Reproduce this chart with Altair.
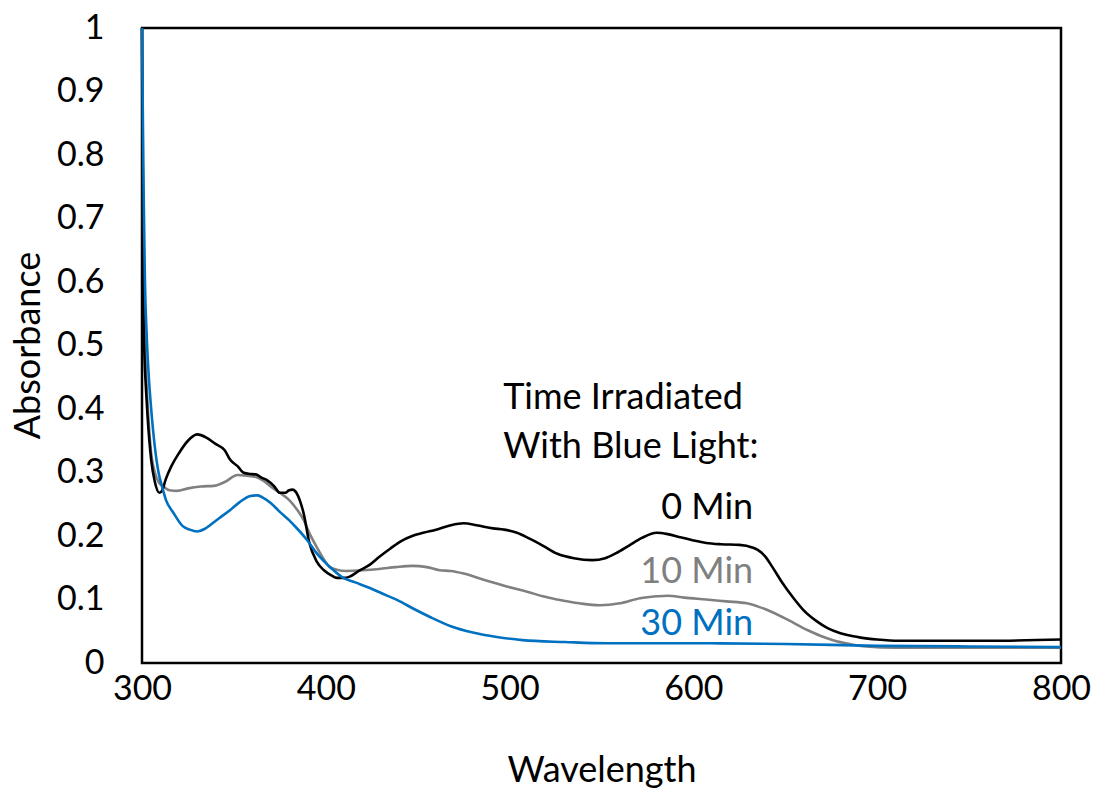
import altair as alt
import pandas as pd

# ---- data ----
wl_0 = [300, 300.5, 301, 301.5, 302, 303, 305, 307, 309.5, 311, 313, 316, 320, 325, 330, 335, 340, 345, 348,
        352, 355, 358, 362, 365, 368, 372, 375, 378, 380, 382, 384, 386, 388, 391, 395, 399, 403, 406, 410,
        413, 418, 424, 429, 435, 441, 447, 453, 460, 468, 475, 482, 491, 497, 504, 510, 518, 526, 535, 545,
        552, 558, 565, 572, 580, 586, 593, 600, 607, 615, 625, 632, 635, 639, 643, 648, 654, 660, 667, 673,
        680, 687, 691, 700, 712, 730, 760, 800]
abs_0 = [1.0, 0.62, 0.52, 0.47, 0.44, 0.39, 0.32, 0.285, 0.268, 0.272, 0.29, 0.31, 0.33, 0.35, 0.36, 0.355, 0.345,
         0.335, 0.32, 0.31, 0.30, 0.298, 0.297, 0.292, 0.288, 0.278, 0.268, 0.268, 0.272, 0.273, 0.268, 0.255,
         0.235, 0.19, 0.16, 0.146, 0.138, 0.134, 0.134, 0.136, 0.145, 0.155, 0.167, 0.18, 0.192, 0.2, 0.205,
         0.21, 0.217, 0.22, 0.217, 0.212, 0.21, 0.205, 0.197, 0.185, 0.172, 0.165, 0.162, 0.165, 0.173, 0.185,
         0.197, 0.205, 0.203, 0.198, 0.193, 0.189, 0.187, 0.186, 0.182, 0.178, 0.168, 0.151, 0.128, 0.104,
         0.083, 0.066, 0.055, 0.047, 0.042, 0.04, 0.037, 0.035, 0.035, 0.035, 0.037]

wl_10 = [300, 300.5, 301, 301.5, 302, 303, 305, 307, 309, 312, 315, 319, 325, 332, 339, 345, 352, 357, 362, 366,
         370, 375, 380, 384, 388, 391, 395, 399, 402, 406, 411, 420, 429, 438, 447, 455, 462, 468, 475, 485,
         492, 499, 510, 518, 526, 538, 549, 560, 571, 580, 586, 595, 607, 618, 629, 636, 643, 652, 662, 669,
         676, 685, 694, 710, 740, 770, 800]
abs_10 = [1.0, 0.7, 0.58, 0.52, 0.47, 0.41, 0.33, 0.30, 0.285, 0.277, 0.272, 0.271, 0.275, 0.278, 0.279,
          0.285, 0.296, 0.295, 0.293, 0.287, 0.278, 0.268, 0.257, 0.243, 0.225, 0.205, 0.183, 0.163, 0.151,
          0.147, 0.145, 0.146, 0.148, 0.151, 0.153, 0.151, 0.146, 0.145, 0.141, 0.132, 0.126, 0.12, 0.112,
          0.105, 0.1, 0.094, 0.091, 0.094, 0.102, 0.105, 0.106, 0.103, 0.1, 0.097, 0.094, 0.088, 0.08, 0.067,
          0.052, 0.043, 0.036, 0.03, 0.026, 0.024, 0.024, 0.024, 0.024]

wl_30 = [300, 300.5, 301, 301.6, 302.5, 303.5, 305, 307, 309, 311, 313, 317, 322, 326, 330, 334, 337, 342, 348,
         353, 359, 363, 366, 370, 375, 380, 384, 390, 395, 402, 409, 416, 424, 431, 439, 448, 457, 468, 480,
         493, 507, 530, 553, 580, 610, 650, 700, 750, 800]
abs_30 = [1.0, 0.85, 0.72, 0.6, 0.52, 0.46, 0.40, 0.34, 0.30, 0.277, 0.257, 0.237, 0.216, 0.21, 0.207, 0.211,
          0.217, 0.228, 0.241, 0.253, 0.263, 0.264, 0.26, 0.252, 0.238, 0.225, 0.213, 0.193, 0.173, 0.152,
          0.135, 0.127, 0.118, 0.109, 0.099, 0.085, 0.072, 0.058, 0.048, 0.041, 0.036, 0.033, 0.031, 0.031,
          0.031, 0.03, 0.027, 0.026, 0.025]

series_names = ["10 Min", "0 Min", "30 Min"]          # draw order (blue on top)
series_colors = ["#808080", "#000000", "#0070C0"]

x_ticks = [300, 400, 500, 600, 700, 800]
y_ticks = [0, 0.1, 0.2, 0.3, 0.4, 0.5, 0.6, 0.7, 0.8, 0.9, 1]

ann_text = ["Time Irradiated", "With Blue Light:"]
ann_x = [496.5, 496.5]
ann_y = [0.417, 0.340]

lab_text = ["0 Min", "10 Min", "30 Min"]
lab_x = [632.5, 632.5, 632.5]
lab_y = [0.244, 0.143, 0.061]
lab_colors = ["#000000", "#808080", "#0070C0"]

FONT = "Lato"
TICK_FS = 34
TEXT_FS = 36

# ---- build tables ----
rows = []
for name, wl, ab in [("0 Min", wl_0, abs_0), ("10 Min", wl_10, abs_10), ("30 Min", wl_30, abs_30)]:
    for i, (w, a) in enumerate(zip(wl, ab)):
        rows.append({"series": name, "wl": w, "abs": a, "idx": i})
df = pd.DataFrame(rows)

ann_df = pd.DataFrame({"text": ann_text, "x": ann_x, "y": ann_y})
lab_df = pd.DataFrame({"text": lab_text, "x": lab_x, "y": lab_y, "c": lab_colors})

xscale = alt.Scale(domain=[300, 800], nice=False, zero=False)
yscale = alt.Scale(domain=[0, 1], nice=False)

lines = alt.Chart(df).mark_line(strokeWidth=2.6, interpolate="monotone").encode(
    x=alt.X("wl:Q", scale=xscale,
            axis=alt.Axis(title="Wavelength", values=x_ticks, format="d", ticks=False, domain=False,
                          grid=False, labelPadding=9, labelFlush=False, titleY=107, titleBaseline="middle",
                          labelFont=FONT, titleFont=FONT, labelFontSize=TICK_FS, titleFontSize=TEXT_FS,
                          titleFontWeight="normal", labelColor="#000000", titleColor="#000000")),
    y=alt.Y("abs:Q", scale=yscale,
            axis=alt.Axis(title="Absorbance", values=y_ticks, format=".1~f", ticks=False, domain=False,
                          grid=False, labelPadding=38, labelFlush=False, titleX=-114, titleY=317,
                          titleAngle=-90, titleAlign="center", titleBaseline="middle",
                          labelFont=FONT, titleFont=FONT, labelFontSize=TICK_FS, titleFontSize=TEXT_FS,
                          titleFontWeight="normal", labelColor="#000000", titleColor="#000000")),
    color=alt.Color("series:N", scale=alt.Scale(domain=series_names, range=series_colors), legend=None),
    order=alt.Order("idx:Q"),
    detail="series:N",
)

layers = [lines.transform_filter(alt.datum.series == name) for name in series_names]

ann = alt.Chart(ann_df).mark_text(align="left", baseline="middle", fontSize=TEXT_FS, font=FONT,
                                  color="#000000").encode(
    x=alt.X("x:Q", scale=xscale), y=alt.Y("y:Q", scale=yscale), text="text:N")

labs = alt.Chart(lab_df).mark_text(align="right", baseline="middle", fontSize=TEXT_FS, font=FONT).encode(
    x=alt.X("x:Q", scale=xscale), y=alt.Y("y:Q", scale=yscale), text="text:N",
    color=alt.Color("c:N", scale=None))

chart = alt.layer(*layers, ann, labs).properties(
    width=919, height=635,
    autosize=alt.AutoSizeParams(type="none"),
    padding={"left": 142, "top": 28, "right": 35, "bottom": 127},
    background="white",
).configure_view(stroke="#000000", strokeWidth=2.5)

chart.save("out.html", embed_options={"renderer": "svg", "actions": False})
